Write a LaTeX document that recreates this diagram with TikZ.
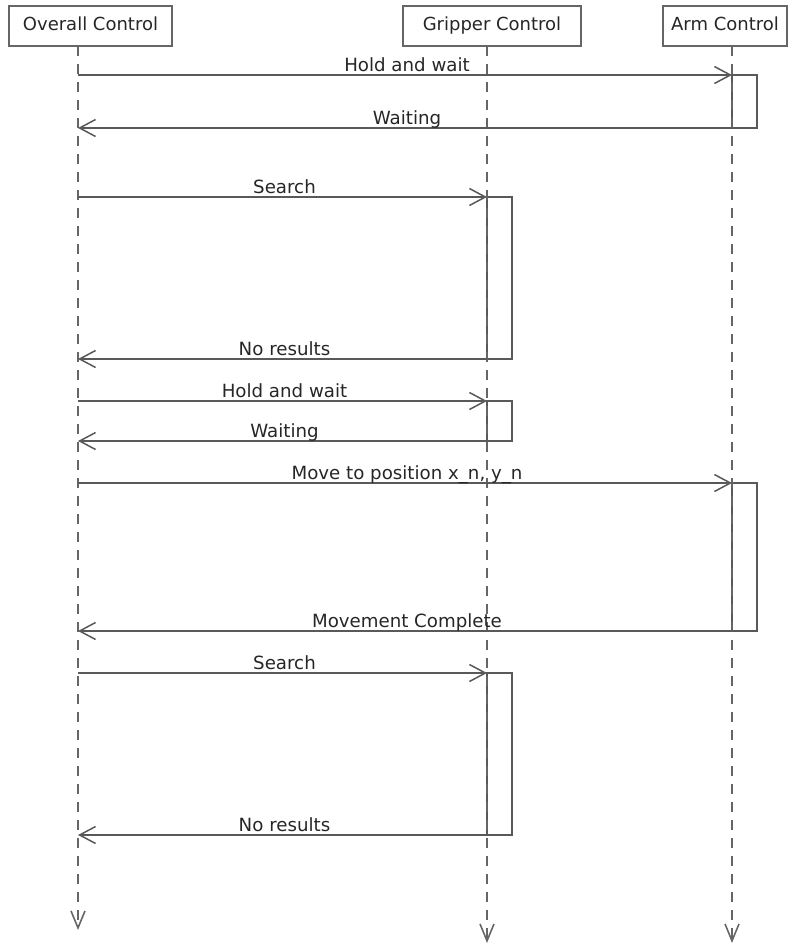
\documentclass[tikz,border=0pt]{standalone}
\usepackage{fontspec}
\setmainfont{DejaVu Sans}
\usetikzlibrary{arrows.meta}
\begin{document}
\begin{tikzpicture}[x=1pt,y=-1pt,
 head/.style={draw=black!60, line width=1.3pt, minimum height=40pt, inner sep=0pt, text height=13pt, text depth=4pt, font=\fontsize{18}{21}\selectfont, text=black!85},
 life/.style={draw=black!60, line width=1.6pt, dash pattern=on 10pt off 8pt, -{Straight Barb[length=17pt,width=14pt]}},
 msg/.style={draw=black!65, line width=1.5pt, -{Straight Barb[length=16pt,width=17pt]}},
 lbl/.style={font=\fontsize{18.2}{21}\selectfont, text=black!85, anchor=base, inner sep=0pt, yshift=4pt, xshift=2pt},
 actbox/.style={draw=black!65, line width=1.5pt}]
\useasboundingbox (0,0) rectangle (790,945);
% headers
\node[head, minimum width=163pt] (oc) at (90.5,26) {Overall Control};
\node[head, minimum width=178pt] (gc) at (492,26) {Gripper Control};
\node[head, minimum width=124pt] (ac) at (725,26) {Arm Control};
% lifeline ends
\coordinate (oct) at (78,46);  \coordinate (ocb) at (78,930);
\coordinate (gct) at (487,46); \coordinate (gcb) at (487,943);
\coordinate (act) at (732,46); \coordinate (acb) at (732,943);
% message end points
\foreach \n/\y in {1/75,2/128,3/197,4/359,5/401,6/441,7/483,8/631,9/673,10/835}{
  \coordinate (o\n) at (78,\y);
  \coordinate (g\n) at (487,\y);
  \coordinate (a\n) at (732,\y);
}
% activation boxes
\draw[actbox] (a1) rectangle ([xshift=25pt]a2);
\draw[actbox] (g3) rectangle ([xshift=25pt]g4);
\draw[actbox] (g5) rectangle ([xshift=25pt]g6);
\draw[actbox] (a7) rectangle ([xshift=25pt]a8);
\draw[actbox] (g9) rectangle ([xshift=25pt]g10);
% lifelines
\draw[life] (oct) -- (ocb);
\draw[life] (gct) -- (gcb);
\draw[life] (act) -- (acb);
% messages
\draw[msg] (o1) -- node[lbl] (l1) {Hold and wait} (a1);
\draw[msg] (a2) -- node[lbl] (l2) {Waiting} (o2);
\draw[msg] (o3) -- node[lbl] (l3) {Search} (g3);
\draw[msg] (g4) -- node[lbl] (l4) {No results} (o4);
\draw[msg] (o5) -- node[lbl] (l5) {Hold and wait} (g5);
\draw[msg] (g6) -- node[lbl] (l6) {Waiting} (o6);
\draw[msg] (o7) -- node[lbl] (l7) {Move to position x\_n, y\_n} (a7);
\draw[msg] (a8) -- node[lbl] (l8) {Movement Complete} (o8);
\draw[msg] (o9) -- node[lbl] (l9) {Search} (g9);
\draw[msg] (g10) -- node[lbl] (l10) {No results} (o10);
\end{tikzpicture}
\end{document}
